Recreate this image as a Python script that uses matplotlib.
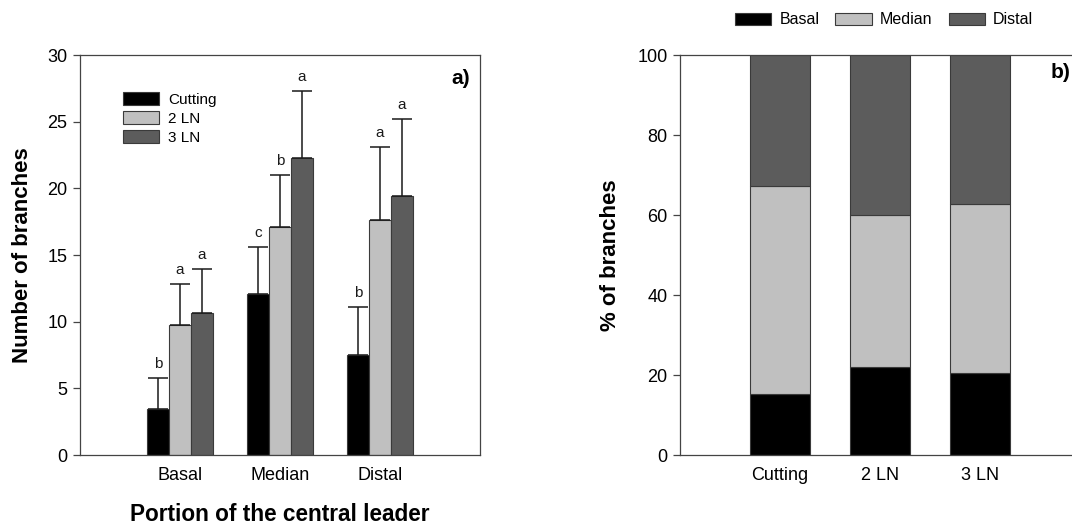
import numpy as np
import matplotlib.pyplot as plt
from matplotlib.patches import Patch

plt.rcParams['font.family'] = ['Liberation Sans', 'DejaVu Sans']

portions = ['Basal', 'Median', 'Distal']
treatments = ['Cutting', '2 LN', '3 LN']

# number of branches per portion (rows: treatment, cols: portion)
n_cutting = [3.45, 12.05, 7.52]
n_2ln = [9.72, 17.07, 17.65]
n_3ln = [10.62, 22.30, 19.42]
sd_cutting = [2.35, 3.52, 3.58]
sd_2ln = [3.13, 3.93, 5.42]
sd_3ln = [3.33, 4.97, 5.78]
letters_cutting = ['b', 'c', 'b']
letters_2ln = ['a', 'b', 'a']
letters_3ln = ['a', 'a', 'a']

# percentage of branches by portion for each treatment
pct_basal = [15.2, 21.9, 20.4]
pct_median = [52.0, 38.1, 42.35]
pct_distal = [32.8, 40.0, 37.25]

colors = ['#000000', '#c0c0c0', '#5c5c5c']
edge = '#3a3a3a'

fig = plt.figure(figsize=(10.72, 5.24), dpi=100)
ax1 = fig.add_axes([80 / 1072, 69 / 524, 400 / 1072, 400 / 524])
ax2 = fig.add_axes([680 / 1072, 69 / 524, 400 / 1072, 400 / 524])

# panel a) grouped bars with upper error bars
x = np.arange(1, 4)
w = 0.22
series = [(n_cutting, sd_cutting, letters_cutting),
          (n_2ln, sd_2ln, letters_2ln),
          (n_3ln, sd_3ln, letters_3ln)]
for i, (vals, sd, lets) in enumerate(series):
    pos = x + (i - 1) * w
    ax1.bar(pos, vals, w, color=colors[i], edgecolor=edge, linewidth=0.8,
            label=treatments[i], zorder=2)
    ax1.errorbar(pos, vals, yerr=[np.zeros(3), sd], fmt='none', ecolor='#1a1a1a',
                 elinewidth=1.1, capsize=7, capthick=1.1, zorder=3)
    for p, v, s, l in zip(pos, vals, sd, lets):
        ax1.annotate(l, (p, v + s), xytext=(0, 5), textcoords='offset points',
                     ha='center', va='bottom', fontsize=11, color='#1a1a1a')

ax1.set_xlim(0, 4)
ax1.set_ylim(0, 30)
ax1.set_xticks(x)
ax1.set_xticklabels(portions)
ax1.set_yticks(np.arange(0, 31, 5))
ax1.set_ylabel('Number of branches', fontsize=16, fontweight='bold', labelpad=10)
ax1.set_xlabel('Portion of the central leader', fontsize=16.3, fontweight='bold', labelpad=13)
ax1.text(0.975, 0.9425, 'a)', transform=ax1.transAxes, ha='right', va='center',
         fontsize=15, fontweight='bold')
ax1.legend(loc='upper left', bbox_to_anchor=(0.1075, 0.9075), frameon=False,
           fontsize=11, borderpad=0, borderaxespad=0, handlelength=2.35,
           handleheight=0.9, labelspacing=0.3, handletextpad=0.6)

# panel b) stacked percentages
xb = np.arange(1, 4)
wb = 0.6
ax2.bar(xb, pct_basal, wb, color=colors[0], edgecolor=edge, linewidth=0.8)
ax2.bar(xb, pct_median, wb, bottom=pct_basal, color=colors[1], edgecolor=edge,
        linewidth=0.8)
ax2.bar(xb, pct_distal, wb, bottom=np.add(pct_basal, pct_median), color=colors[2],
        edgecolor=edge, linewidth=0.8)
ax2.set_xlim(0, 4)
ax2.set_ylim(0, 100)
ax2.set_xticks(xb)
ax2.set_xticklabels(treatments)
ax2.set_yticks(np.arange(0, 101, 20))
ax2.set_ylabel('% of branches', fontsize=16, fontweight='bold', labelpad=12)
ax2.text(0.975, 0.955, 'b)', transform=ax2.transAxes, ha='right', va='center',
         fontsize=15, fontweight='bold')

handles = [Patch(facecolor=c, edgecolor=edge, linewidth=0.8) for c in colors]
fig.legend(handles, portions, loc='center', bbox_to_anchor=(884 / 1072, 1 - 20 / 524),
           ncol=3, frameon=False, fontsize=11.5, handlelength=2.3, handleheight=0.8,
           handletextpad=0.5, columnspacing=1.0)

for ax in (ax1, ax2):
    for s in ax.spines.values():
        s.set_color('#444444')
        s.set_linewidth(0.9)
    ax.tick_params(axis='y', direction='out', length=5, width=0.9, color='#444444',
                   labelsize=13, pad=4)
    ax.tick_params(axis='x', length=0, labelsize=13, pad=9)

fig.savefig('out.png', dpi=100)
